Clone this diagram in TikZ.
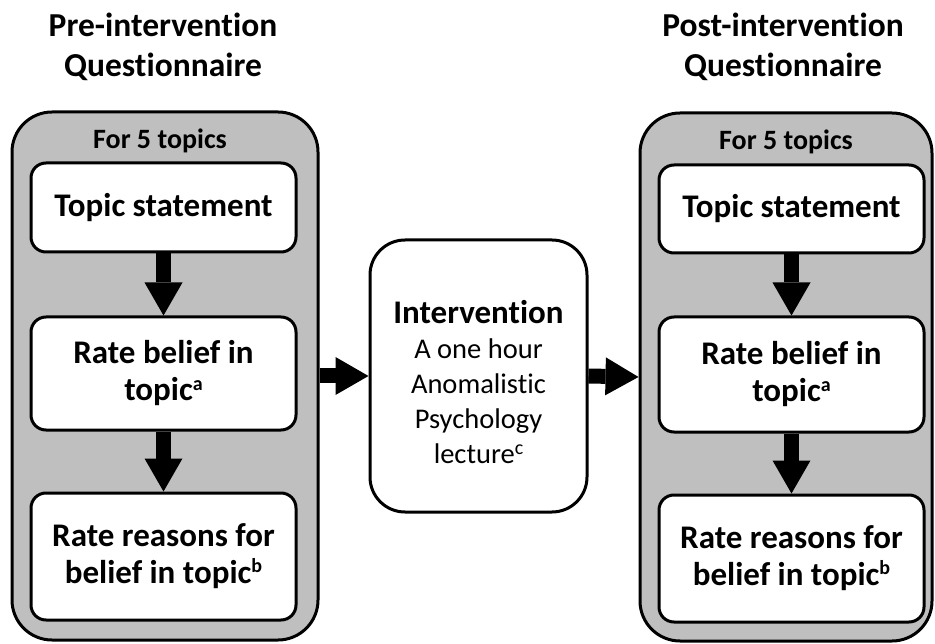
\documentclass[tikz,border=0pt]{standalone}
\usepackage{fontspec}
\setmainfont{Carlito}[Ligatures=NoCommon]
\usetikzlibrary{arrows.meta}
\definecolor{panelgray}{HTML}{BFBFBF}
\newcommand{\mysup}[1]{\raisebox{0.33em}{\fontsize{20}{20}\selectfont #1}}
\begin{document}
\begin{tikzpicture}[x=1pt,y=-1pt,
  panel/.style={draw=black, line width=3pt, fill=panelgray, rounded corners=40pt,
    minimum width=#1, inner sep=0pt},
  stepbox/.style={draw=black, line width=3pt, fill=white, rounded corners=15pt,
    minimum width=265pt, inner sep=0pt, align=center,
    font=\fontsize{33}{37}\selectfont\bfseries},
  midbox/.style={draw=black, line width=3pt, fill=white, rounded corners=35pt,
    minimum width=217pt, minimum height=272pt, inner sep=0pt},
  midtextstyle/.style={align=center, inner sep=0pt, font=\fontsize{28.5}{35}\selectfont},
  title/.style={align=center, font=\fontsize{33.5}{40}\selectfont\bfseries},
  caption/.style={font=\fontsize{28}{30}\selectfont\bfseries},
  blockarrow/.style={line width=15pt, -{Triangle[width=38pt,length=33pt,line width=0pt]}}
]
\useasboundingbox (0,0) rectangle (935,644);

% titles
\node[title] (pretitle) at (163,47) {Pre-intervention\\Questionnaire};
\node[title] (posttitle) at (783,47) {Post-intervention\\Questionnaire};

% panels
\node[panel=306pt, minimum height=528pt] (lpanel) at (165,376) {};
\node[panel=292pt, minimum height=528pt] (rpanel) at (786,377) {};

\node[caption] (lfor) at (160,141) {For 5 topics};
\node[caption] (rfor) at (786,142) {For 5 topics};

% left steps
\node[stepbox, minimum height=89pt] (lts) at (163.5,207.5) {Topic statement};
\node[stepbox, minimum height=113pt] (lrb) at (163.5,373.5) {Rate belief in\\topic\mysup{a}};
\node[stepbox, minimum height=127pt] (lrr) at (163.5,556.5) {Rate reasons for\\belief in topic\mysup{b}};

% right steps
\node[stepbox, minimum height=88pt] (rts) at (791.5,209) {Topic statement};
\node[stepbox, minimum height=115pt] (rrb) at (791.5,374.5) {Rate belief in\\topic\mysup{a}};
\node[stepbox, minimum height=127pt] (rrr) at (791.5,558.5) {Rate reasons for\\belief in topic\mysup{b}};

% intervention
\node[midbox] (mid) at (478.5,376) {};
\node[midtextstyle] (midtext) at (478.5,382) {{\fontsize{33}{35}\selectfont\bfseries Intervention}\\
  A one hour\\
  Anomalistic\\
  Psychology\\
  lecture\mysup{c}};

% arrows
\draw[blockarrow] (lts) -- (lrb);
\draw[blockarrow] (lrb) -- (lrr);
\draw[blockarrow] (rts) -- (rrb);
\draw[blockarrow] (rrb) -- (rrr);
\draw[blockarrow] (lpanel.east) -- (mid.west);
\draw[blockarrow] (mid.east) -- (rpanel.west);
\end{tikzpicture}
\end{document}
